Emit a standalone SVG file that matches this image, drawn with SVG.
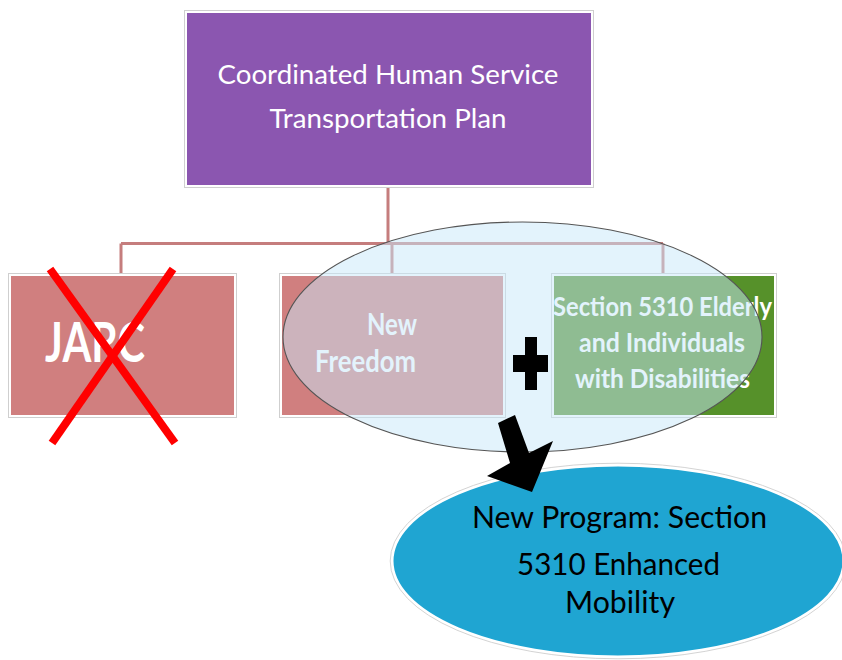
<svg xmlns="http://www.w3.org/2000/svg" width="842" height="660" viewBox="0 0 842 660">
  <style>
    .frame { fill: #ffffff; stroke: #cfcfcf; stroke-width: 1; }
    .t { font-family: Lato, "Open Sans", "Liberation Sans", sans-serif; }
    .wt { fill: #ffffff; font-weight: bold; text-anchor: middle; }
    .conn { fill: none; stroke: #c57d7d; stroke-width: 3; }
  </style>
  <rect width="842" height="660" fill="#ffffff"/>

  <g id="connectors">
    <path class="conn" d="M388 187 V243.5"/>
    <path class="conn" d="M121 243.5 H663"/>
    <path class="conn" d="M121 243.5 V274"/>
    <path class="conn" d="M392 243.5 V274"/>
    <path class="conn" d="M663 243.5 V274"/>
  </g>

  <g id="plan">
    <rect class="frame" x="184.5" y="10.5" width="409" height="177"/>
    <rect x="187" y="13" width="404" height="172" fill="#8b56b0"/>
    <text class="t" x="388" y="84" font-size="27.5" fill="#ffffff" text-anchor="middle" textLength="341" lengthAdjust="spacingAndGlyphs">Coordinated Human Service</text>
    <text class="t" x="388" y="128" font-size="27.5" fill="#ffffff" text-anchor="middle" textLength="237" lengthAdjust="spacingAndGlyphs">Transportation Plan</text>
  </g>

  <g id="jarc">
    <rect class="frame" x="8.5" y="273.5" width="228" height="144"/>
    <rect x="11" y="276" width="223" height="139" fill="#d07f7f"/>
    <text class="t" x="95" y="362" font-size="55" fill="#ffffff" font-weight="bold" text-anchor="middle" textLength="100" lengthAdjust="spacingAndGlyphs">JARC</text>
    <line x1="50" y1="269" x2="175" y2="443" stroke="#ff0000" stroke-width="8"/>
    <line x1="173" y1="269" x2="52" y2="443" stroke="#ff0000" stroke-width="8"/>
  </g>

  <g id="new-freedom">
    <rect class="frame" x="279.5" y="273.5" width="226" height="144"/>
    <rect x="282" y="276" width="221" height="139" fill="#d07f7f"/>
    <text class="t wt" x="392" y="335" font-size="30" textLength="50" lengthAdjust="spacingAndGlyphs">New</text>
    <text class="t wt" x="365.5" y="372" font-size="30" textLength="101" lengthAdjust="spacingAndGlyphs">Freedom</text>
  </g>

  <g id="section-5310">
    <rect class="frame" x="551.5" y="273.5" width="225" height="144"/>
    <rect x="554" y="276" width="220" height="139" fill="#56912a"/>
    <text class="t wt" x="662.5" y="316" font-size="26.5" textLength="219" lengthAdjust="spacingAndGlyphs">Section 5310 Elderly</text>
    <text class="t wt" x="662" y="352" font-size="26.5" textLength="166" lengthAdjust="spacingAndGlyphs">and Individuals</text>
    <text class="t wt" x="662.5" y="388" font-size="26.5" textLength="175" lengthAdjust="spacingAndGlyphs">with Disabilities</text>
  </g>

  <g id="merge-group">
    <ellipse cx="522.5" cy="337" rx="239.5" ry="115" fill="#c7e7f9" fill-opacity="0.5" stroke="#555555" stroke-width="1.1"/>
  </g>

  <g id="plus">
    <path d="M525 337 H537 V355 H548 V372 H537 V390 H525 V372 H513 V355 H525 Z" fill="#000000"/>
  </g>

  <g id="new-program">
    <ellipse cx="618" cy="561" rx="226" ry="96" fill="#1fa5d2" stroke="#ffffff" stroke-width="3"/>
    <ellipse cx="618" cy="561" rx="227.8" ry="97.8" fill="none" stroke="#c8c8c8" stroke-width="0.8"/>
    <text class="t" x="619.5" y="528" font-size="30.5" fill="#000000" text-anchor="middle" textLength="295" lengthAdjust="spacingAndGlyphs">New Program: Section</text>
    <text class="t" x="618.5" y="575" font-size="30.5" fill="#000000" text-anchor="middle" textLength="203" lengthAdjust="spacingAndGlyphs">5310 Enhanced</text>
    <text class="t" x="620" y="613" font-size="30.5" fill="#000000" text-anchor="middle" textLength="110" lengthAdjust="spacingAndGlyphs">Mobility</text>
  </g>

  <g id="arrow">
    <polygon points="498,423 515,415 529,453 553,441 532,492 487,476 510,463" fill="#000000"/>
  </g>
</svg>
